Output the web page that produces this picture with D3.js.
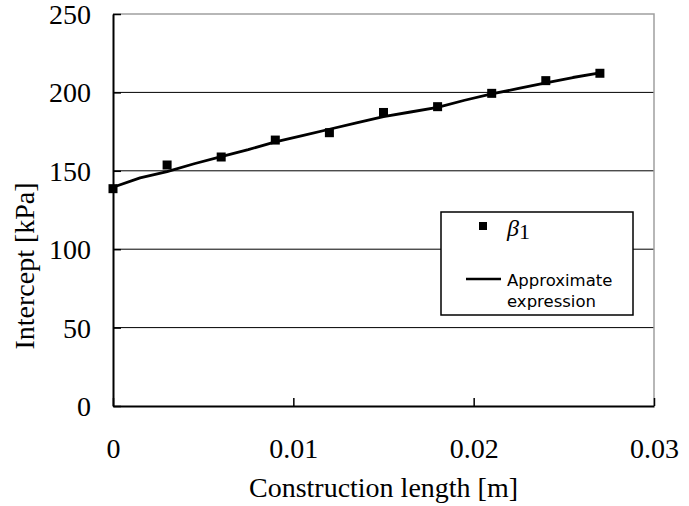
<!DOCTYPE html>
<html>
<head>
<meta charset="utf-8">
<script src="https://cdn.jsdelivr.net/npm/d3@7"></script>
<style>
  body { margin: 0; background: #fff; }
  svg { display: block; }
  .tick text { font-family: "Liberation Serif", "Times New Roman", serif; font-size: 28px; fill: #000; }
</style>
</head>
<body>
<svg id="chart" width="689" height="506"></svg>
<script>
// measured points (beta 1)
const pointX = [0, 0.003, 0.006, 0.009, 0.012, 0.015, 0.018, 0.021, 0.024, 0.027];
const pointY = [138.6, 153.7, 158.8, 169.6, 174.3, 187.2, 190.9, 199.4, 207.5, 212.2];

// approximate expression curve
const lineX = [0, 0.0015, 0.003, 0.0045, 0.006, 0.0075, 0.009, 0.0105, 0.012, 0.0135,
  0.015, 0.0165, 0.018, 0.0195, 0.021, 0.0225, 0.024, 0.0255, 0.027];
const lineY = [139.5, 145.5, 149.5, 154.5, 159, 163.5, 168.5, 172.5, 176.5, 180.5,
  184.5, 187.5, 190.5, 195, 199, 202.5, 206, 209.5, 212.5];

const xTicks = [0, 0.01, 0.02, 0.03];
const yTicks = [0, 50, 100, 150, 200, 250];

const PAD = { left: 113, right: 654, top: 14, bottom: 406 };

const svg = d3.select('#chart');

const x = d3.scaleLinear().domain([0, 0.03]).range([PAD.left, PAD.right]);
const y = d3.scaleLinear().domain([0, 250]).range([PAD.bottom, PAD.top]);

// gridlines
svg.append('g')
  .selectAll('line')
  .data(yTicks.filter(d => d > 0 && d < 250))
  .enter()
  .append('line')
  .attr('x1', PAD.left)
  .attr('x2', PAD.right)
  .attr('y1', d => y(d))
  .attr('y2', d => y(d))
  .attr('stroke', '#000')
  .attr('stroke-width', 1);

// gray top / right border
svg.append('path')
  .attr('d', 'M' + PAD.left + ',' + y(250) + 'H' + x(0.03) + 'V' + y(0))
  .attr('fill', 'none')
  .attr('stroke', '#a0a0a0')
  .attr('stroke-width', 1.5);

// axes
const axisY = d3.axisLeft(y)
  .tickValues(yTicks)
  .tickFormat(d3.format('d'))
  .tickSizeInner(-8)
  .tickSizeOuter(0)
  .tickPadding(22);

const axisX = d3.axisBottom(x)
  .tickValues(xTicks)
  .tickFormat(d => d === 0 ? '0' : d3.format('.2f')(d))
  .tickSizeInner(-8)
  .tickSizeOuter(0)
  .tickPadding(32);

const gy = svg.append('g')
  .attr('transform', 'translate(' + PAD.left + ',0)')
  .call(axisY);
gy.select('.domain').attr('stroke', '#000').attr('stroke-width', 2);
gy.selectAll('.tick line').attr('stroke', '#000').attr('stroke-width', 1.5);
gy.selectAll('.tick text').attr('dy', '0.34em');

const gx = svg.append('g')
  .attr('transform', 'translate(0,' + PAD.bottom + ')')
  .call(axisX);
gx.select('.domain').attr('stroke', '#000').attr('stroke-width', 2);
gx.selectAll('.tick line').attr('stroke', '#000').attr('stroke-width', 1.5);

// approximate expression line
const line = d3.line()
  .x(d => x(d[0]))
  .y(d => y(d[1]));

svg.append('path')
  .datum(lineX.map((v, i) => [v, lineY[i]]))
  .attr('d', line)
  .attr('fill', 'none')
  .attr('stroke', '#000')
  .attr('stroke-width', 2.8)
  .attr('stroke-linejoin', 'round');

// square markers
const M = 9;
svg.append('g')
  .selectAll('rect')
  .data(pointX.map((v, i) => [v, pointY[i]]))
  .enter()
  .append('rect')
  .attr('x', d => x(d[0]) - M / 2)
  .attr('y', d => y(d[1]) - M / 2)
  .attr('width', M)
  .attr('height', M)
  .attr('fill', '#000');

// axis titles
svg.append('text')
  .attr('x', (PAD.left + PAD.right) / 2)
  .attr('y', 497)
  .attr('text-anchor', 'middle')
  .style('font-family', '"Liberation Serif", "Times New Roman", serif')
  .style('font-size', '28px')
  .text('Construction length [m]');

svg.append('text')
  .attr('transform', 'translate(34,266) rotate(-90)')
  .attr('text-anchor', 'middle')
  .style('font-family', '"Liberation Serif", "Times New Roman", serif')
  .style('font-size', '28px')
  .text('Intercept [kPa]');

// legend
const legend = svg.append('g');
legend.append('rect')
  .attr('x', 441)
  .attr('y', 212)
  .attr('width', 192)
  .attr('height', 103)
  .attr('fill', '#fff')
  .attr('stroke', '#000')
  .attr('stroke-width', 1.5);

legend.append('rect')
  .attr('x', 479)
  .attr('y', 222)
  .attr('width', 8)
  .attr('height', 8)
  .attr('fill', '#000');

const beta = legend.append('text')
  .attr('x', 507)
  .attr('y', 236)
  .style('font-family', '"Liberation Serif", "Times New Roman", serif')
  .style('font-size', '24px');
beta.append('tspan').style('font-style', 'italic').text('β');
beta.append('tspan').attr('dy', 3).style('font-size', '22px').text('1');

legend.append('line')
  .attr('x1', 466)
  .attr('x2', 501)
  .attr('y1', 279)
  .attr('y2', 279)
  .attr('stroke', '#000')
  .attr('stroke-width', 2.5);

legend.selectAll('.legend-label')
  .data(['Approximate', 'expression'])
  .enter()
  .append('text')
  .attr('class', 'legend-label')
  .attr('x', 507)
  .attr('y', (d, i) => 286 + i * 21)
  .style('font-family', '"DejaVu Sans", sans-serif')
  .style('font-size', '16.5px')
  .text(d => d);
</script>
</body>
</html>
